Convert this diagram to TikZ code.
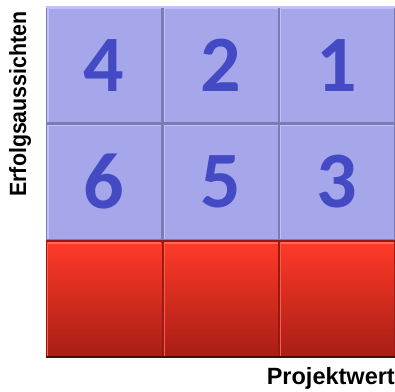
\documentclass[tikz,border=0pt]{standalone}
\usepackage{fontspec}
\setmainfont{Liberation Sans}
\newfontfamily\digfont{Carlito}
\usetikzlibrary{calc}
\definecolor{cellblue}{RGB}{166,167,235}
\definecolor{cellhi}{RGB}{192,193,250}
\definecolor{divblue}{RGB}{122,124,178}
\definecolor{redtop}{RGB}{255,58,40}
\definecolor{redbot}{RGB}{168,30,22}
\definecolor{redhi}{RGB}{255,105,88}
\definecolor{divred}{RGB}{150,26,18}
\definecolor{digfill}{RGB}{68,74,196}
\tikzset{
  bcell/.style={draw=none, fill=cellblue, minimum width=114pt, minimum height=114pt, inner sep=0pt},
  rcell/.style={draw=none, top color=redtop, bottom color=redbot, minimum width=114pt, minimum height=114pt, inner sep=0pt},
  dig/.style={font=\digfont\bfseries\fontsize{80}{80}\selectfont, inner sep=0pt, text=digfill},
  axlabel/.style={font=\bfseries\fontsize{23.5}{24}\selectfont, inner sep=0pt},
}
\begin{document}
\begin{tikzpicture}[x=1pt,y=1pt]
\useasboundingbox (0,0) rectangle (395,391);
% grid background (dividers)
\fill[divblue] (46,151) rectangle (395,384);
\fill[divred] (46,33) rectangle (395,151);
\fill[cellhi] (46,383) rectangle (395,385);
% cells
\foreach \c/\x in {1/104.25,2/220.75,3/337}{
  \node[bcell] (t\c) at (\x,325.75) {};
  \node[bcell] (m\c) at (\x,209.25) {};
  \node[rcell] (b\c) at (\x,92) {};
  \fill[cellhi] ($(t\c.north west)$) rectangle ($(t\c.south west)+(1.5,0)$);
  \fill[cellhi] ($(m\c.north west)$) rectangle ($(m\c.south west)+(1.5,0)$);
  \fill[cellhi] ($(t\c.north west)$) rectangle ($(t\c.north east)+(0,-1.2)$);
  \fill[cellhi] ($(m\c.north west)$) rectangle ($(m\c.north east)+(0,-1.2)$);
  \fill[redhi] ($(b\c.north west)$) rectangle ($(b\c.north east)+(0,-2)$);
  \fill[redhi!70!redtop] ($(b\c.north west)$) rectangle ($(b\c.south west)+(1.2,0)$);
}
\fill[black!50!divred] (46,33) rectangle (395,35);
% digits
\node[dig] (d4) at (t1) {4};
\node[dig] (d2) at (t2) {2};
\node[dig] (d1) at (t3) {1};
\node[dig] (d6) at (m1) {6};
\node[dig] (d5) at (m2) {5};
\node[dig] (d3) at (m3) {3};
% axis labels
\node[axlabel, rotate=90, xscale=0.91] (ylab) at (20,287) {Erfolgsaussichten};
\node[axlabel, anchor=east] (xlab) at (395,13) {Projektwert};
\end{tikzpicture}
\end{document}
